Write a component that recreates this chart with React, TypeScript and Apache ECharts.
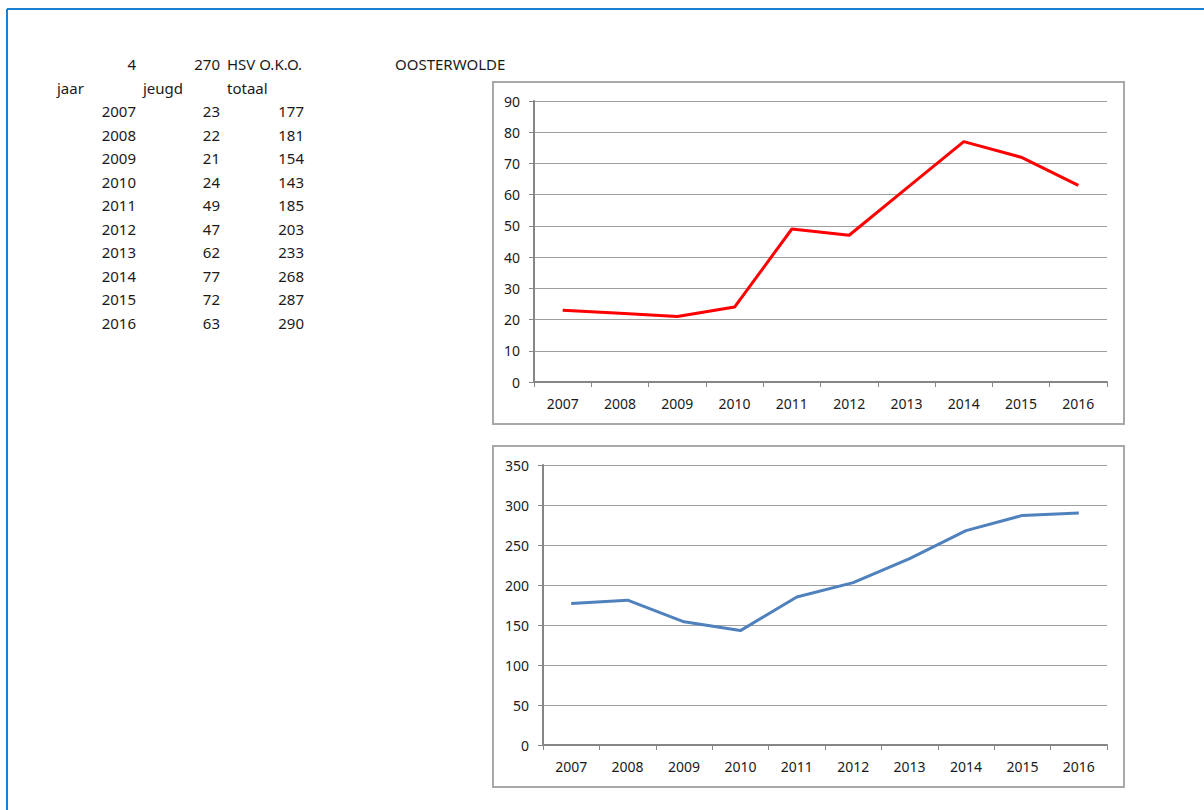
import React, { useEffect, useRef } from "react";
import * as echarts from "echarts";

const years = ["2007", "2008", "2009", "2010", "2011", "2012", "2013", "2014", "2015", "2016"];
const jeugd = [23, 22, 21, 24, 49, 47, 62, 77, 72, 63];
const totaal = [177, 181, 154, 143, 185, 203, 233, 268, 287, 290];
const headerTop = ["4", "270", "HSV O.K.O."];
const headerCols = ["jaar", "jeugd", "totaal"];
const placeTitle = "OOSTERWOLDE";

const FONT = "'Noto Sans', 'Open Sans', sans-serif";
const TEXT = "#1a1a1a";

export default function App() {
  const ref = useRef<HTMLDivElement>(null);
  useEffect(() => {
    if (!ref.current) return;
    const chart = echarts.init(ref.current, undefined, { renderer: "svg" });

    const txt = (text: string, x: number, y: number, align: string) => ({
      type: "text",
      x,
      y,
      style: {
        text,
        fill: TEXT,
        font: `15px ${FONT}`,
        align,
        verticalAlign: "middle",
      },
    });

    const graphic: any[] = [
      { type: "line", shape: { x1: 7, y1: 9, x2: 1204, y2: 9 }, style: { stroke: "#1b7fd3", lineWidth: 2 } },
      { type: "line", shape: { x1: 7, y1: 9, x2: 7, y2: 810 }, style: { stroke: "#1b7fd3", lineWidth: 2 } },
      { type: "rect", shape: { x: 493, y: 82, width: 631, height: 342 }, style: { fill: "none", stroke: "#a8a8a8", lineWidth: 2 }, z: -1 },
      { type: "rect", shape: { x: 493, y: 446, width: 631, height: 341 }, style: { fill: "none", stroke: "#a8a8a8", lineWidth: 2 }, z: -1 },
      txt(headerTop[0], 136, 64, "right"),
      txt(headerTop[1], 220, 64, "right"),
      txt(headerTop[2], 227, 64, "left"),
      txt(headerCols[0], 57, 88, "left"),
      txt(headerCols[1], 143, 88, "left"),
      txt(headerCols[2], 227, 88, "left"),
      txt(placeTitle, 395, 64, "left"),
    ];
    years.forEach((y, i) => {
      const yy = 111 + i * 23.55;
      graphic.push(txt(y, 136, yy, "right"));
      graphic.push(txt(String(jeugd[i]), 220, yy, "right"));
      graphic.push(txt(String(totaal[i]), 304, yy, "right"));
    });

    const xAxisBase = (gridIndex: number) => ({
      type: "category",
      gridIndex,
      data: years,
      boundaryGap: true,
      axisLine: { lineStyle: { color: "#868686", width: 2 } },
      axisTick: { show: true, length: 5, lineStyle: { color: "#868686", width: 1 } },
      axisLabel: { color: TEXT, fontSize: 14, fontFamily: FONT, margin: 14, interval: 0 },
      splitLine: { show: false },
    });
    const yAxisBase = (gridIndex: number, max: number, interval: number) => ({
      type: "value",
      gridIndex,
      min: 0,
      max,
      interval,
      axisLine: { show: true, lineStyle: { color: "#868686", width: 2 } },
      axisTick: { show: true, length: 5, lineStyle: { color: "#868686", width: 1 } },
      axisLabel: { color: TEXT, fontSize: 14, fontFamily: FONT, margin: 14 },
      splitLine: { show: true, lineStyle: { color: "#a0a0a0", width: 1 } },
    });

    chart.setOption({
      animation: false,
      backgroundColor: "#ffffff",
      grid: [
        { left: 534, top: 101, width: 573, height: 281 },
        { left: 543, top: 465, width: 564, height: 280 },
      ],
      xAxis: [xAxisBase(0), xAxisBase(1)],
      yAxis: [yAxisBase(0, 90, 10), yAxisBase(1, 350, 50)],
      series: [
        {
          type: "line",
          xAxisIndex: 0,
          yAxisIndex: 0,
          data: jeugd,
          showSymbol: false,
          symbol: "none",
          lineStyle: { color: "#ff0000", width: 3 },
          itemStyle: { color: "#ff0000" },
        },
        {
          type: "line",
          xAxisIndex: 1,
          yAxisIndex: 1,
          data: totaal,
          showSymbol: false,
          symbol: "none",
          lineStyle: { color: "#4f81bd", width: 3 },
          itemStyle: { color: "#4f81bd" },
        },
      ],
      graphic,
    });
    return () => chart.dispose();
  }, []);
  return (
    <div
      ref={ref}
      style={{ position: "fixed", left: 0, top: 0, width: 1204, height: 810 }}
    />
  );
}
